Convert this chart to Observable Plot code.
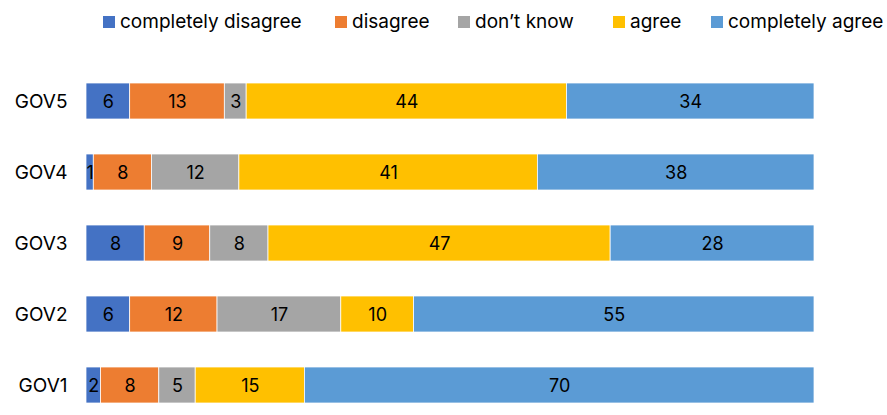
<!DOCTYPE html>
<html>
<head>
<meta charset="utf-8">
<script src="https://cdn.jsdelivr.net/npm/d3@7"></script>
<script src="https://cdn.jsdelivr.net/npm/@observablehq/plot@0.6"></script>
<style>
  html, body { margin: 0; padding: 0; background: #fff; overflow: hidden; }
  body { width: 887px; height: 415px; font-family: Inter, "Noto Sans", sans-serif; }
  #legend { position: relative; height: 45px; }
  .item { position: absolute; top: 12px; height: 20px; line-height: 20px; display: flex; align-items: center; font-size: 19px; color: #000; white-space: nowrap; }
  .sw { width: 12px; height: 12px; margin-right: 5px; }
  #chart svg { display: block; overflow: visible; }
</style>
</head>
<body>
<div id="legend"></div>
<div id="chart"></div>
<script>
const categories = ["GOV5", "GOV4", "GOV3", "GOV2", "GOV1"];
const responses = ["completely disagree", "disagree", "don\u2019t know", "agree", "completely agree"];
const colors = ["#4472C4", "#ED7D31", "#A5A5A5", "#FFC000", "#5B9BD5"];
const completelyDisagree = [6, 1, 8, 6, 2];
const disagree = [13, 8, 9, 12, 8];
const dontKnow = [3, 12, 8, 17, 5];
const agree = [44, 41, 47, 10, 15];
const completelyAgree = [34, 38, 28, 55, 70];

const series = [completelyDisagree, disagree, dontKnow, agree, completelyAgree];
const data = [];
categories.forEach((c, i) => {
  responses.forEach((r, j) => data.push({category: c, response: r, value: series[j][i]}));
});

// legend
const legendX = [103, 335, 458, 613, 711];
const legend = document.getElementById("legend");
responses.forEach((r, j) => {
  const d = document.createElement("div");
  d.className = "item";
  d.style.left = legendX[j] + "px";
  d.innerHTML = `<span class="sw" style="background:${colors[j]}"></span><span>${r}</span>`;
  legend.appendChild(d);
});

const chart = Plot.plot({
  width: 887,
  height: 370,
  marginLeft: 86,
  marginRight: 73,
  marginTop: 20,
  marginBottom: 0,
  style: {fontFamily: "Inter, 'Noto Sans', sans-serif", fontSize: "19px", color: "#000"},
  x: {domain: [0, 100], axis: null},
  y: {domain: categories, range: [20, 375], paddingInner: 0.493, paddingOuter: 0.2465, label: null},
  color: {domain: responses, range: colors},
  marks: [
    Plot.ruleX([0], {stroke: "#d9d9d9", strokeWidth: 1.5, dx: -1, y1: null}),
    Plot.barX(data, Plot.stackX({x: "value", y: "category", fill: "response", order: responses, stroke: "white", strokeWidth: 0.75})),
    Plot.text(data, Plot.stackX({x: "value", y: "category", z: "response", order: responses, text: d => String(d.value), fill: "#000", fontSize: 18, dy: 1})),
    Plot.axisY({tickSize: 0, tickPadding: 19, fontSize: 19, label: null})
  ]
});
document.getElementById("chart").appendChild(chart);
</script>
</body>
</html>
